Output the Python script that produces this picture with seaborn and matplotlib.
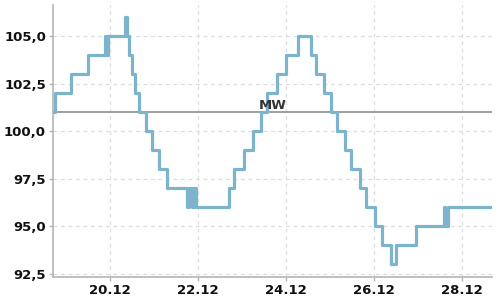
import matplotlib
matplotlib.use("Agg")
import matplotlib.pyplot as plt
import matplotlib.dates as mdates
from matplotlib.ticker import FuncFormatter, FixedLocator
import pandas as pd
import seaborn as sns

# Change points of the stepped series (time, value)
times = [
    "2023-12-18 17:00", "2023-12-18 18:00", "2023-12-19 03:00", "2023-12-19 12:15",
    "2023-12-19 21:30", "2023-12-19 22:15", "2023-12-19 23:00", "2023-12-20 08:30",
    "2023-12-20 09:15", "2023-12-20 10:30", "2023-12-20 12:00", "2023-12-20 14:00",
    "2023-12-20 16:00", "2023-12-20 19:45", "2023-12-20 23:15", "2023-12-21 03:00",
    "2023-12-21 07:00", "2023-12-21 18:00", "2023-12-21 19:00", "2023-12-21 21:00",
    "2023-12-21 21:45", "2023-12-21 22:45", "2023-12-22 17:15", "2023-12-22 20:00",
    "2023-12-23 01:00", "2023-12-23 06:00", "2023-12-23 10:15", "2023-12-23 14:00",
    "2023-12-23 19:00", "2023-12-24 00:00", "2023-12-24 06:30", "2023-12-24 14:00",
    "2023-12-24 16:30", "2023-12-24 20:45", "2023-12-25 00:45", "2023-12-25 03:45",
    "2023-12-25 08:15", "2023-12-25 11:30", "2023-12-25 16:15", "2023-12-25 20:00",
    "2023-12-26 00:30", "2023-12-26 04:45", "2023-12-26 09:30", "2023-12-26 12:00",
    "2023-12-26 23:15", "2023-12-27 14:15", "2023-12-27 15:00", "2023-12-27 16:15",
    "2023-12-28 16:30",
]
values = [
    101, 102, 103, 104,
    105, 104, 105, 106,
    105, 104, 103, 102,
    101, 100, 99, 98,
    97, 96, 97, 96,
    97, 96, 97, 98,
    99, 100, 101, 102,
    103, 104, 105, 104,
    103, 102, 101, 100,
    99, 98, 97, 96,
    95, 94, 93, 94,
    95, 96, 95, 96,
    96,
]
mw_value = 101
mw_label = "MW"
x_tick_dates = ["2023-12-20", "2023-12-22", "2023-12-24", "2023-12-26", "2023-12-28"]
y_ticks = [92.5, 95.0, 97.5, 100.0, 102.5, 105.0]

df = pd.DataFrame({"time": pd.to_datetime(times), "value": values})

sns.set_theme(style="white")
plt.rcParams["font.family"] = ["DejaVu Sans"]

fig = plt.figure(figsize=(5, 3), dpi=100)
ax = fig.add_axes([0.106, 0.0767, 0.878, 0.906])

ax.axhline(mw_value, color="#8f8f8f", lw=1.2, zorder=2)
sns.lineplot(data=df, x="time", y="value", ax=ax, drawstyle="steps-post",
             color="#7db4cd", lw=2.3, zorder=3)
ax.text(0.5, mw_value, mw_label, transform=ax.get_yaxis_transform(),
        ha="center", va="bottom", fontsize=9.5, fontweight="bold",
        color="#333333", zorder=4)

ax.set_xlim(df["time"].iloc[0], df["time"].iloc[-1])
ax.set_ylim(92.34, 106.63)

ax.xaxis.set_major_locator(FixedLocator(mdates.date2num(pd.to_datetime(x_tick_dates))))
ax.xaxis.set_major_formatter(mdates.DateFormatter("%d.%m"))
ax.yaxis.set_major_locator(FixedLocator(y_ticks))
ax.yaxis.set_major_formatter(FuncFormatter(lambda v, p: f"{v:.1f}".replace(".", ",")))

ax.grid(True, color="#dddddd", linestyle=(0, (3, 3)), lw=0.9)
ax.set_axisbelow(True)
for s in ["top", "right"]:
    ax.spines[s].set_visible(False)
for s in ["left", "bottom"]:
    ax.spines[s].set_color("#b5b5b5")
    ax.spines[s].set_linewidth(1.2)

ax.tick_params(axis="both", which="major", length=3, width=1, color="#b5b5b5",
               labelsize=9.5, labelcolor="#111111", pad=2, direction="out",
               bottom=True, left=True)
for lab in ax.get_xticklabels() + ax.get_yticklabels():
    lab.set_fontweight("bold")
ax.set_xlabel("")
ax.set_ylabel("")

fig.savefig("out.png", dpi=100)
